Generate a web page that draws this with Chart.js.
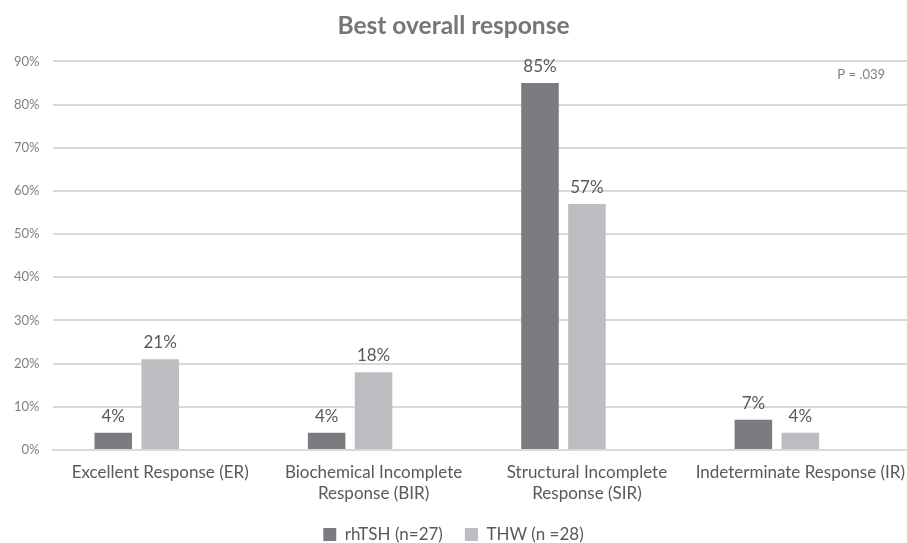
<!DOCTYPE html>
<html>
<head>
<meta charset="utf-8">
<script src="https://cdn.jsdelivr.net/npm/chart.js@4"></script>
<style>
  html, body { margin: 0; padding: 0; background: #fff; }
  #wrap { width: 907px; height: 543px; }
</style>
</head>
<body>
<div id="wrap"><canvas id="chart"></canvas></div>
<script>
var categories = [
  'Excellent Response (ER)',
  ['Biochemical Incomplete', 'Response (BIR)'],
  ['Structural Incomplete', 'Response (SIR)'],
  'Indeterminate Response (IR)'
];
var rhTSH = [4, 4, 85, 7];
var THW = [21, 18, 57, 4];
var spacer = [null, null, null, null];
var seriesNames = ['rhTSH (n=27)', 'THW (n =28)'];
var yTicks = [0, 10, 20, 30, 40, 50, 60, 70, 80, 90];
var pValue = 'P = .039';

var FONT = 'Lato, "Open Sans", sans-serif';

// labels on top of the bars
var barLabels = {
  id: 'barLabels',
  afterDatasetsDraw: function (chart) {
    var ctx = chart.ctx;
    ctx.save();
    ctx.font = '17px ' + FONT;
    ctx.fillStyle = '#595959';
    ctx.textAlign = 'center';
    ctx.textBaseline = 'alphabetic';
    chart.data.datasets.forEach(function (ds, i) {
      if (ds.label === '') return;
      chart.getDatasetMeta(i).data.forEach(function (bar, j) {
        ctx.fillText(ds.data[j] + '%', bar.x, bar.y - 11);
      });
    });
    ctx.restore();
  }
};

// the p value in the top right corner
var pNote = {
  id: 'pNote',
  afterDraw: function (chart) {
    var ctx = chart.ctx;
    var area = chart.chartArea;
    ctx.save();
    ctx.font = '13px ' + FONT;
    ctx.fillStyle = '#7f7f7f';
    ctx.textAlign = 'right';
    ctx.textBaseline = 'middle';
    ctx.fillText(pValue, area.right - 22, area.top + 13);
    ctx.restore();
  }
};

new Chart(document.getElementById('chart'), {
  type: 'bar',
  data: {
    labels: categories,
    datasets: [
      { label: seriesNames[0], data: rhTSH, backgroundColor: '#7b7c80' },
      { label: seriesNames[1], data: THW, backgroundColor: '#bcbdc1' },
      { label: '', data: spacer, backgroundColor: 'rgba(0,0,0,0)' }
    ]
  },
  options: {
    responsive: true,
    maintainAspectRatio: false,
    animation: false,
    layout: { autoPadding: false, padding: { left: 0, right: 0, top: 0, bottom: -10 } },
    datasets: {
      bar: { categoryPercentage: 0.66, barPercentage: 0.8 }
    },
    plugins: {
      title: {
        display: true,
        text: 'Best overall response',
        color: '#767676',
        font: { family: FONT, size: 24.5, weight: 'bold' },
        padding: { top: 11, bottom: 21 }
      },
      legend: {
        position: 'bottom',
        labels: {
          color: '#595959',
          font: { family: FONT, size: 17 },
          boxWidth: 13,
          boxHeight: 13,
          padding: 22,
          filter: function (item) { return item.text !== ''; }
        }
      },
      tooltip: { enabled: false }
    },
    scales: {
      x: {
        grid: { display: false },
        border: { color: '#d9d9d9', width: 2 },
        ticks: {
          color: '#595959',
          font: { family: FONT, size: 17, lineHeight: 1.24 },
          maxRotation: 0,
          autoSkip: false,
          padding: 4
        },
        afterFit: function (axis) {
          axis.height = 54;
          axis.paddingRight = 0;
        }
      },
      y: {
        min: 0,
        max: 90,
        afterBuildTicks: function (axis) {
          axis.ticks = yTicks.map(function (v) { return { value: v }; });
        },
        grid: { color: '#d9d9d9', lineWidth: 2, drawTicks: false },
        border: { display: false },
        ticks: {
          color: '#7f7f7f',
          font: { family: FONT, size: 13 },
          padding: 14,
          callback: function (v) { return v + '%'; }
        }
      }
    }
  },
  plugins: [barLabels, pNote]
});
</script>
</body>
</html>
